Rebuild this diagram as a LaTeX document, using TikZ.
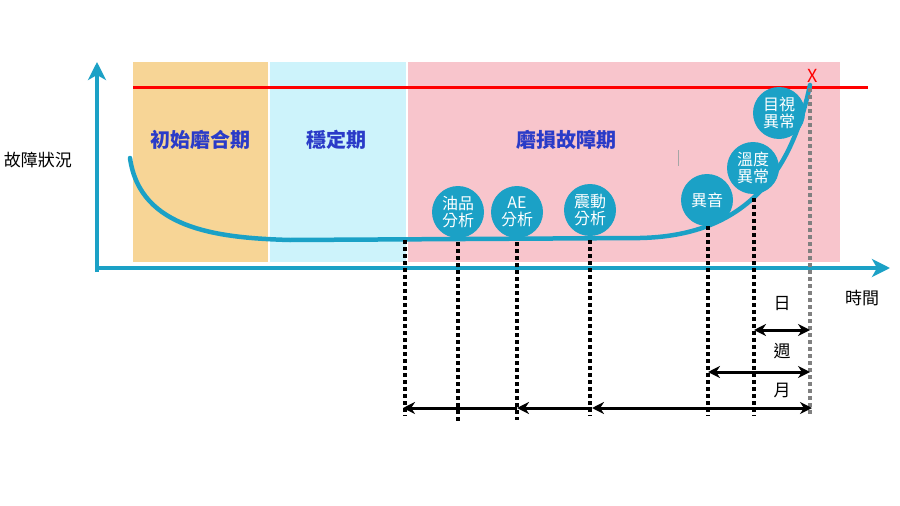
\documentclass[tikz,border=0pt]{standalone}
\usepackage{fontspec}
\setmainfont{Noto Sans CJK TC}
\usetikzlibrary{arrows.meta}
\definecolor{teal1}{HTML}{1BA1C6}
\definecolor{phase}{HTML}{2A3BC8}
\definecolor{orng}{HTML}{F7D596}
\definecolor{lblue}{HTML}{CDF3FB}
\definecolor{pnk}{HTML}{F8C5CC}
\begin{document}
\begin{tikzpicture}[x=1pt,y=-1pt,
  circ/.style={circle,fill=teal1,text=white,minimum size=52pt,inner sep=0pt,align=center,font=\fontsize{16}{17}\selectfont},
  phasel/.style={text=phase,font=\fontsize{20}{22}\selectfont\bfseries},
  dots/.style={line width=3.5pt,dash pattern=on 3.5pt off 3.5pt},
  dbl/.style={line width=3pt,{Stealth[length=12pt,width=12pt]}-{Stealth[length=12pt,width=12pt]}},
  lft/.style={line width=3pt,{Stealth[length=12pt,width=12pt]}-},
  lab/.style={font=\fontsize{17}{19}\selectfont}]
\useasboundingbox (0,0) rectangle (900,506);
\fill[white] (0,0) rectangle (900,506);
\fill[orng] (133,62) rectangle (268,262);
\fill[lblue] (270,62) rectangle (406,262);
\fill[pnk] (408,62) rectangle (840,262);
\draw[red,line width=3pt] (133,87) -- (868,87);
\node[text=red,font=\fontsize{18}{18}\selectfont] (x) at (813,76) {X};
\draw[gray!70,line width=0.8pt] (678,150) -- (678,166);
% axes
\coordinate (ytop) at (97,62);
\coordinate (xend) at (890,268);
\draw[teal1,line width=4pt,-{Stealth[length=18pt,width=18pt,inset=5pt]}] (97,272) -- (ytop);
\draw[teal1,line width=4pt,-{Stealth[length=18pt,width=18pt,inset=5pt]}] (95,268) -- (xend);
% curve
\draw[teal1,line width=4.5pt,line cap=round] (130,158) .. controls (140,230) and (220,238) .. (290,240) -- (640,238) .. controls (740,236) and (790,180) .. (810,85);
% phase labels
\node[phasel] (p1) at (200,140) {初始磨合期};
\node[phasel] (p2) at (336,140) {穩定期};
\node[phasel] (p3) at (566,140) {磨損故障期};
\node[lab] (ylab) at (38,160) {故障狀況};
\node[lab] (xlab) at (862,298) {時間};
% dotted lines
\coordinate (d0t) at (405,240); \coordinate (d0b) at (405,416);
\coordinate (d1t) at (458,242); \coordinate (d1b) at (458,422);
\coordinate (d2t) at (517,242); \coordinate (d2b) at (517,420);
\coordinate (d3t) at (590,240); \coordinate (d3b) at (590,416);
\coordinate (d4t) at (708,226); \coordinate (d4b) at (708,416);
\coordinate (d5t) at (754,198); \coordinate (d5b) at (754,416);
\coordinate (d6t) at (810,88); \coordinate (d6b) at (810,416);
\foreach \i in {0,...,5} \draw[dots] (d\i t) -- (d\i b);
\draw[dots,gray] (d6t) -- (d6b);
% circles
\node[circ] (c1) at (458,212) {油品\\分析};
\node[circ] (c2) at (517,212) {AE\\分析};
\node[circ] (c3) at (590,210) {震動\\分析};
\node[circ] (c4) at (707,200) {異音};
\node[circ] (c5) at (753,168) {溫度\\異常};
\node[circ] (c6) at (779,113) {目視\\異常};
% time arrows
\coordinate (a1l) at (754,330); \coordinate (a1r) at (810,330);
\coordinate (a2l) at (708,372); \coordinate (a2r) at (810,372);
\coordinate (b0) at (403,408); \coordinate (b1) at (517,408);
\coordinate (b2) at (592,408); \coordinate (b3) at (812,408);
\draw[dbl] (a1l) -- (a1r);
\draw[dbl] (a2l) -- (a2r);
\draw[lft] (b0) -- (b1);
\draw[lft] (b1) -- (b2);
\draw[dbl] (b2) -- (b3);
\node[lab] (t1) at (782,304) {日};
\node[lab] (t2) at (782,351) {週};
\node[lab] (t3) at (782,390) {月};
\end{tikzpicture}
\end{document}
